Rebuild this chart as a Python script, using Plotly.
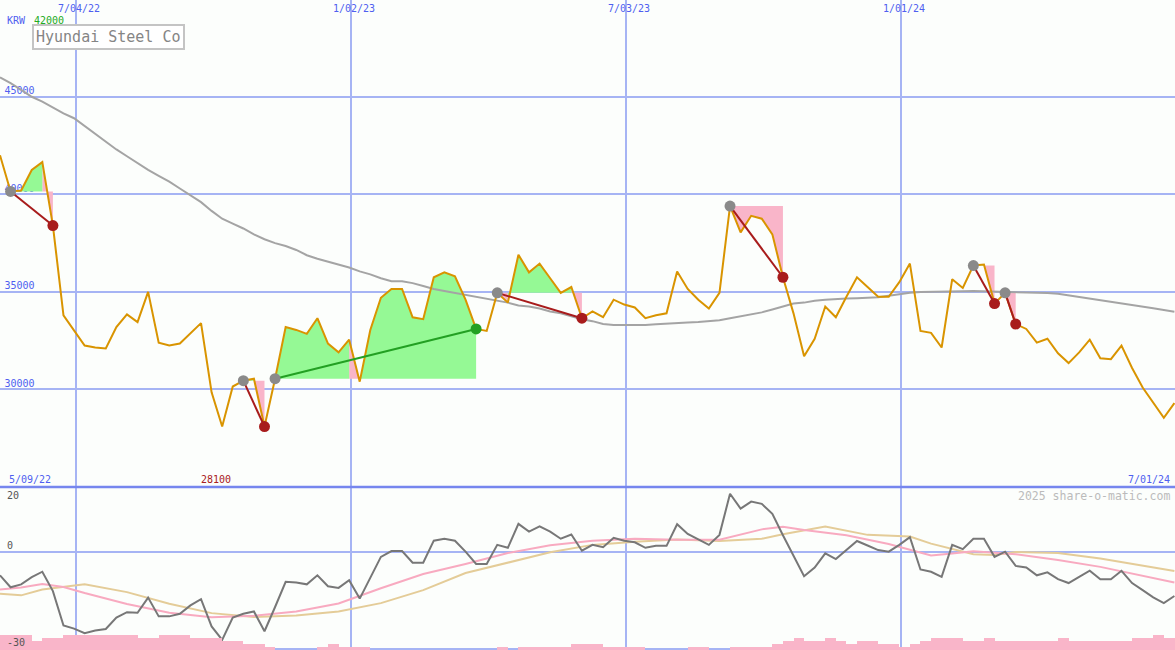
import pandas as pd
import plotly.graph_objects as go

# ---------------- data ----------------
price = [42000, 40150, 40200, 41250, 41650, 38400, 33800, 33050, 32250, 32150,
         32100, 33200, 33850, 33450, 35000, 32400, 32250, 32350, 32900, 33400,
         29850, 28100, 30150, 30450, 30550, 28100, 30550, 33200, 33050, 32850,
         33650, 32350, 31900, 32550, 30400, 33050, 34700, 35150, 35150, 33700,
         33600, 35750, 36000, 35800, 34600, 33100, 33000, 34950, 34450, 36900,
         36000, 36450, 35700, 34950, 35250, 33650, 34000, 33700, 34600, 34350,
         34200, 33650, 33800, 33900, 36050, 35150, 34600, 34150, 34950, 39400,
         38050, 38900, 38750, 37950, 35750, 33900, 31700, 32600, 34250, 33700,
         34750, 35750, 35250, 34750, 34750, 35500, 36450, 33000, 32900, 32150,
         35650, 35200, 36350, 36400, 34400, 34950, 33350, 33100, 32400, 32600,
         31850, 31350, 31900, 32550, 31600, 31550, 32250, 31100, 30100, 29300,
         28550, 29300]

ma_long = [46000, 45700, 45350, 45000, 44750, 44450, 44150, 43900, 43500, 43100,
           42700, 42300, 41950, 41600, 41250, 40950, 40650, 40300, 39950, 39600,
           39150, 38750, 38500, 38250, 37950, 37700, 37500, 37350, 37150, 36880,
           36700, 36550, 36400, 36250, 36050, 35900, 35700, 35550, 35550, 35450,
           35300, 35150, 35050, 34950, 34850, 34750, 34650, 34550, 34450, 34300,
           34250, 34150, 34000, 33900, 33750, 33600, 33500, 33350, 33300, 33300,
           33300, 33300, 33340, 33360, 33400, 33430, 33460, 33500, 33550, 33650,
           33750, 33850, 33950, 34100, 34250, 34400, 34450, 34550, 34600, 34640,
           34660, 34680, 34700, 34730, 34800, 34880, 34950, 35000, 35000, 35010,
           35020, 35030, 35040, 35030, 35020, 35000, 34990, 34970, 34950, 34940,
           34900, 34820, 34740, 34650, 34590, 34500, 34420, 34330, 34250, 34160,
           34070, 33980]

osc = [-7.3, -11.0, -10.1, -7.9, -6.2, -12.2, -22.8, -23.8, -25.2, -24.4,
       -23.9, -20.4, -18.7, -18.9, -14.2, -20.0, -20.0, -19.2, -16.6, -14.7,
       -23.1, -27.3, -20.4, -19.2, -18.5, -24.6, -17.1, -9.3, -9.5, -10.1,
       -7.3, -10.7, -11.2, -8.8, -14.5, -7.8, -1.6, 0.2, 0.2, -3.4,
       -3.4, 3.4, 4.0, 3.4, 0.0, -3.8, -3.8, 2.1, 1.2, 8.6,
       6.2, 7.8, 6.2, 4.0, 5.3, 0.3, 2.1, 1.4, 4.3, 3.4,
       2.9, 1.2, 1.8, 1.8, 8.5, 5.5, 3.9, 2.1, 5.2, 17.9,
       13.3, 15.5, 14.8, 11.7, 5.1, -1.3, -7.6, -4.9, -0.5, -2.3,
       0.5, 3.3, 1.9, 0.5, 0.0, 2.1, 4.5, -5.5, -6.2, -7.8,
       2.1, 0.8, 4.0, 4.0, -1.6, 0.0, -4.4, -4.9, -7.3, -6.4,
       -8.5, -9.7, -7.8, -5.9, -8.5, -8.5, -5.9, -9.7, -11.9, -14.1,
       -15.9, -13.7]

pink_idx = [0, 2, 4, 6, 8, 12, 16, 20, 24, 28, 32, 36, 40, 44, 48, 52, 56, 60, 64, 68,
            72, 74, 76, 80, 84, 88, 90, 92, 96, 100, 104, 108, 111]
pink_vals = [-11.7, -11.1, -10.0, -10.9, -12.8, -16.2, -18.9, -20.3, -19.8, -18.5, -16.0,
             -11.3, -6.9, -3.8, -0.4, 2.0, 3.4, 4.0, 3.7, 3.7, 6.9, 7.7, 6.7, 5.1, 2.4,
             -1.2, -0.6, 0.1, -0.8, -2.6, -4.7, -7.4, -9.5]

tan_idx = [0, 2, 4, 8, 12, 16, 20, 24, 28, 32, 36, 40, 44, 48, 52, 56, 60, 64, 68, 72,
           74, 78, 82, 86, 88, 92, 94, 96, 100, 104, 108, 111]
tan_vals = [-13.0, -13.5, -11.7, -10.1, -12.5, -16.1, -19.0, -20.2, -19.7, -18.5, -15.9,
            -11.9, -6.6, -3.5, -0.2, 2.1, 3.1, 3.8, 3.3, 4.0, 5.4, 7.8, 5.2, 4.7, 2.5,
            -0.8, -1.0, -0.1, -0.4, -2.1, -4.2, -6.0]

volume = [5, 5, 5, 3, 4, 4, 5, 5, 5, 5,
          5, 5, 5, 4, 4, 5, 5, 5, 4, 4,
          4, 3, 3, 2, 2, 1, 0, 0, 0, 0,
          1, 2, 1, 1, 1, 0, 0, 0, 0, 0,
          0, 0, 0, 0, 0, 0, 0, 1, 0, 1,
          1, 1, 1, 1, 2, 2, 2, 1, 1, 1,
          1, 0, 0, 0, 0, 1, 1, 0, 0, 1,
          1, 1, 1, 2, 3, 4, 3, 3, 4, 3,
          2, 3, 3, 2, 2, 1, 2, 3, 4, 4,
          4, 3, 3, 4, 3, 3, 3, 3, 3, 3,
          4, 3, 3, 3, 3, 3, 3, 4, 4, 5,
          4, 4]

# (entry week index, exit week index)
trades = [(1, 5), (23, 25), (26, 45), (47, 55), (69, 74), (92, 94), (95, 96)]

grid_dates = ["2022-07-04", "2023-01-02", "2023-07-03", "2024-01-01"]
grid_labels = ["7/04/22", "1/02/23", "7/03/23", "1/01/24"]
price_ticks = [30000, 35000, 40000, 45000]
osc_ticks = [20, 0, -30]
title = "Hyundai Steel Co"
currency = "KRW"
first_price_label = "42000"
start_label = "5/09/22"
end_label = "7/01/24"
watermark = "2025 share-o-matic.com"

# ---------------- styles ----------------
BG = "#fcfefc"
GRID = "#a6b4f4"
SEP = "#7686ee"
BLUE_TXT = "#4f5ff0"
PRICE_C = "#d99400"
MA_C = "#a4a4a4"
FILL_G = "#95f995"
FILL_P = "#f9b5c9"
LOSS_C = "#a81c1c"
GAIN_C = "#23a023"
DOT_G = "#8a8a8a"
MONO = "DejaVu Sans Mono"
SPLIT = 163 / 650.0

dates = pd.date_range("2022-05-15", periods=len(price), freq="7D")
x_start = dates[0]
x_end = dates[0] + pd.Timedelta(days=777.4)

fig = go.Figure()

# y tick labels (top panel) drawn first so fills may cover them
fig.add_trace(go.Scatter(
    x=[x_start + pd.Timedelta(days=3)] * len(price_ticks), y=price_ticks,
    text=[str(v) for v in price_ticks], mode="text", textposition="top right",
    textfont=dict(family=MONO, size=10, color=BLUE_TXT), hoverinfo="skip"))

# trade fills
green_x, green_y, pink_x, pink_y = [], [], [], []
for e, x_ in trades:
    base = price[e]
    for j in range(e, x_):
        xs = [dates[j], dates[j], dates[j + 1], dates[j + 1], dates[j], None]
        ys = [base, price[j], price[j + 1], base, base, None]
        if price[j + 1] >= base:
            green_x += xs
            green_y += ys
        else:
            pink_x += xs
            pink_y += ys
for xs, ys, c in [(pink_x, pink_y, FILL_P), (green_x, green_y, FILL_G)]:
    fig.add_trace(go.Scatter(x=xs, y=ys, mode="lines", line=dict(width=0),
                             fill="toself", fillcolor=c, hoverinfo="skip"))

# long moving average
fig.add_trace(go.Scatter(x=dates, y=ma_long, mode="lines",
                         line=dict(color=MA_C, width=2), hoverinfo="skip"))
# price
fig.add_trace(go.Scatter(x=dates, y=price, mode="lines",
                         line=dict(color=PRICE_C, width=2), hoverinfo="skip"))

# trade lines and dots
for e, x_ in trades:
    c = GAIN_C if price[x_] > price[e] else LOSS_C
    fig.add_trace(go.Scatter(x=[dates[e], dates[x_]], y=[price[e], price[x_]],
                             mode="lines", line=dict(color=c, width=2), hoverinfo="skip"))
for e, x_ in trades:
    c = GAIN_C if price[x_] > price[e] else LOSS_C
    fig.add_trace(go.Scatter(x=[dates[e]], y=[price[e]], mode="markers",
                             marker=dict(color=DOT_G, size=11), hoverinfo="skip"))
    fig.add_trace(go.Scatter(x=[dates[x_]], y=[price[x_]], mode="markers",
                             marker=dict(color=c, size=11), hoverinfo="skip"))

# lower panel
fig.add_trace(go.Scatter(x=[dates[i] for i in tan_idx], y=tan_vals, mode="lines",
                         line=dict(color="#e4cc98", width=2), xaxis="x2", yaxis="y2",
                         hoverinfo="skip"))
fig.add_trace(go.Scatter(x=[dates[i] for i in pink_idx], y=pink_vals, mode="lines",
                         line=dict(color="#f8aac0", width=2), xaxis="x2", yaxis="y2",
                         hoverinfo="skip"))
fig.add_trace(go.Scatter(x=dates, y=osc, mode="lines",
                         line=dict(color="#777777", width=2), xaxis="x2", yaxis="y2",
                         hoverinfo="skip"))
fig.add_trace(go.Bar(x=dates + pd.Timedelta(days=3.5), y=volume, width=7 * 86400000,
                     marker=dict(color=FILL_P, line=dict(width=0)),
                     xaxis="x2", yaxis="y3", hoverinfo="skip"))

axis_x = dict(range=[x_start, x_end], tickvals=grid_dates, showgrid=True,
              gridcolor=GRID, gridwidth=1.5, showticklabels=False, zeroline=False,
              showline=False, ticks="")
fig.update_layout(
    width=1175, height=650, margin=dict(l=0, r=0, t=0, b=0),
    paper_bgcolor=BG, plot_bgcolor=BG, showlegend=False, bargap=0,
    xaxis=dict(axis_x, domain=[0, 1], anchor="y"),
    yaxis=dict(domain=[SPLIT, 1], range=[25000, 49960], tickvals=price_ticks,
               gridcolor=GRID, gridwidth=2, showticklabels=False, zeroline=False),
    xaxis2=dict(axis_x, domain=[0, 1], anchor="y2"),
    yaxis2=dict(domain=[0, SPLIT], range=[-30.4, 20], tickvals=[0, -30],
                gridcolor=GRID, gridwidth=2, showticklabels=False, zeroline=False),
    yaxis3=dict(overlaying="y2", anchor="x2", range=[0, 54.2], visible=False),
)

# separator
fig.add_shape(type="line", xref="paper", yref="paper", x0=0, x1=1, y0=SPLIT, y1=SPLIT,
              line=dict(color=SEP, width=2.5))


def py(px):
    return 1 - px / 650.0


def pxx(px):
    return px / 1175.0


ann = []
for d, lab in zip(grid_dates, grid_labels):
    ann.append(dict(x=d, xref="x", y=py(8.5), yref="paper", text=lab, showarrow=False,
                    xanchor="center", yanchor="middle", xshift=3,
                    font=dict(family=MONO, size=10, color=BLUE_TXT)))
ann.append(dict(x=pxx(5), xref="paper", y=py(21), yref="paper", text=currency,
                showarrow=False, xanchor="left", yanchor="middle",
                font=dict(family=MONO, size=10, color=BLUE_TXT)))
ann.append(dict(x=pxx(32), xref="paper", y=py(21), yref="paper", text=first_price_label,
                showarrow=False, xanchor="left", yanchor="middle",
                font=dict(family=MONO, size=10, color="#22aa22")))
ann.append(dict(x=pxx(32), xref="paper", y=py(24), yref="paper", text=title,
                showarrow=False, xanchor="left", yanchor="top",
                font=dict(family=MONO, size=15, color="#858585"),
                bordercolor="#c4c4c4", borderwidth=2, borderpad=2, bgcolor="#ffffff"))
ann.append(dict(x=pxx(7), xref="paper", y=py(479), yref="paper", text=start_label,
                showarrow=False, xanchor="left", yanchor="middle",
                font=dict(family=MONO, size=10, color=BLUE_TXT)))
ann.append(dict(x=pxx(1172), xref="paper", y=py(479), yref="paper", text=end_label,
                showarrow=False, xanchor="right", yanchor="middle",
                font=dict(family=MONO, size=10, color=BLUE_TXT)))
imin = price.index(min(price))
ann.append(dict(x=dates[imin], xref="x", y=py(479), yref="paper", text=str(min(price)),
                showarrow=False, xanchor="center", yanchor="middle", xshift=-6,
                font=dict(family=MONO, size=10, color="#a82020")))
ann.append(dict(x=pxx(1172), xref="paper", y=py(496), yref="paper", text=watermark,
                showarrow=False, xanchor="right", yanchor="middle",
                font=dict(family=MONO, size=11.5, color="#bbbbbb")))
for v, ypx in zip(osc_ticks, [495.7, 545.7, 642.3]):
    ann.append(dict(x=pxx(5), xref="paper", y=py(ypx), yref="paper", text=str(v),
                    showarrow=False, xanchor="left", yanchor="middle",
                    font=dict(family=MONO, size=10, color="#555555")))
fig.update_layout(annotations=ann)

fig.write_html("out.html", config={"displayModeBar": False},
               post_script="document.body.style.margin='0px';"
                           "document.body.style.overflow='hidden';")
